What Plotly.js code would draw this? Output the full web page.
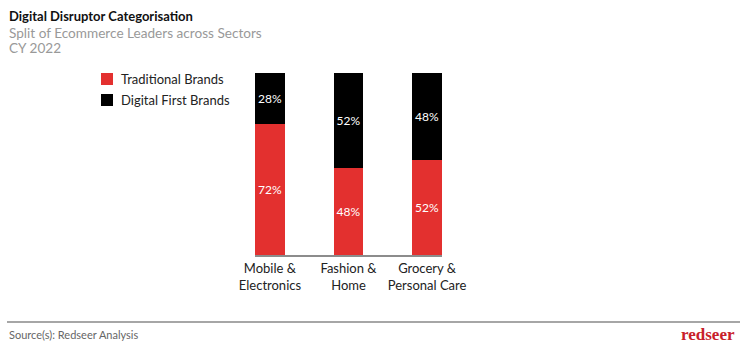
<!DOCTYPE html>
<html>
<head>
<meta charset="utf-8">
<script src="https://cdn.plot.ly/plotly-3.0.1.min.js"></script>
<style>html,body{margin:0;padding:0;background:#fff;}#chart{width:745px;height:351px;}</style>
</head>
<body>
<div id="chart"></div>
<script>
const categories = ["Mobile &<br>Electronics", "Fashion &<br>Home", "Grocery &<br>Personal Care"];
const traditional = [72, 48, 52];
const digitalFirst = [28, 52, 48];
const seriesNames = ["Traditional Brands", "Digital First Brands"];
const colors = ["#e3302f", "#000000"];

const font = "Lato, 'Open Sans', sans-serif";

const traces = [traditional, digitalFirst].map((vals, i) => ({
  type: "bar",
  name: seriesNames[i],
  x: categories,
  y: vals,
  marker: {color: colors[i]},
  width: 0.38,
  text: vals.map(v => v + "%"),
  textposition: "inside",
  insidetextanchor: "middle",
  textangle: 0,
  constraintext: "none",
  textfont: {color: "#ffffff", size: 12, family: font},
  hoverinfo: "none",
  showlegend: false
}));

const legendShapes = [];
const legendAnn = [];
seriesNames.forEach((n, i) => {
  const cy = 79 + i * 21;
  legendShapes.push({type: "rect", xref: "paper", yref: "paper",
    x0: (101 - 255) / 187, x1: (113 - 255) / 187,
    y0: (255 - (cy - 6)) / 182, y1: (255 - (cy + 6)) / 182,
    fillcolor: colors[i], line: {width: 0}});
  legendAnn.push({xref: "paper", yref: "paper", x: (119 - 255) / 187, y: (255 - cy) / 182,
    xanchor: "left", yanchor: "middle", showarrow: false, text: n,
    font: {family: font, size: 13, color: "#222"}});
});

const layout = {
  width: 745, height: 351,
  margin: {l: 255, r: 303, t: 73, b: 96},
  paper_bgcolor: "#fff", plot_bgcolor: "#fff",
  barmode: "stack",
  showlegend: false,
  font: {family: font},
  xaxis: {type: "category", range: [-0.19, 2.19], showline: true, linecolor: "#8c8c8c", linewidth: 2,
    ticks: "", tickfont: {size: 13, color: "#222", family: font}, showgrid: false, zeroline: false, fixedrange: true},
  yaxis: {range: [0, 100], visible: false, showgrid: false, zeroline: false, fixedrange: true},
  shapes: legendShapes.concat([
    {type: "line", xref: "paper", yref: "paper", x0: (7 - 255) / 187, x1: (740 - 255) / 187,
     y0: (255 - 322) / 182, y1: (255 - 322) / 182, line: {color: "#888", width: 1.5}}
  ]),
  annotations: legendAnn.concat([
    {xref: "paper", yref: "paper", x: (7 - 255) / 187, y: (255 - 16) / 182, xanchor: "left", yanchor: "middle",
     showarrow: false, text: "<b>Digital Disruptor Categorisation</b>", font: {family: font, size: 13, color: "#111"}},
    {xref: "paper", yref: "paper", x: (7 - 255) / 187, y: (255 - 33) / 182, xanchor: "left", yanchor: "middle",
     showarrow: false, text: "Split of Ecommerce Leaders across Sectors", font: {family: font, size: 13.6, color: "#999"}},
    {xref: "paper", yref: "paper", x: (7 - 255) / 187, y: (255 - 48) / 182, xanchor: "left", yanchor: "middle",
     showarrow: false, text: "CY 2022", font: {family: font, size: 13.6, color: "#999"}},
    {xref: "paper", yref: "paper", x: (7 - 255) / 187, y: (255 - 334) / 182, xanchor: "left", yanchor: "middle",
     showarrow: false, text: "Source(s): Redseer Analysis", font: {family: font, size: 11, color: "#666"}},
    {xref: "paper", yref: "paper", x: (737 - 255) / 187, y: (255 - 334) / 182, xanchor: "right", yanchor: "middle",
     showarrow: false, text: "<b>redseer</b>", font: {family: "'Liberation Serif', 'DejaVu Serif', serif", size: 17, color: "#c8202a"}}
  ])
};

Plotly.newPlot("chart", traces, layout, {displayModeBar: false, staticPlot: true});
</script>
</body>
</html>
